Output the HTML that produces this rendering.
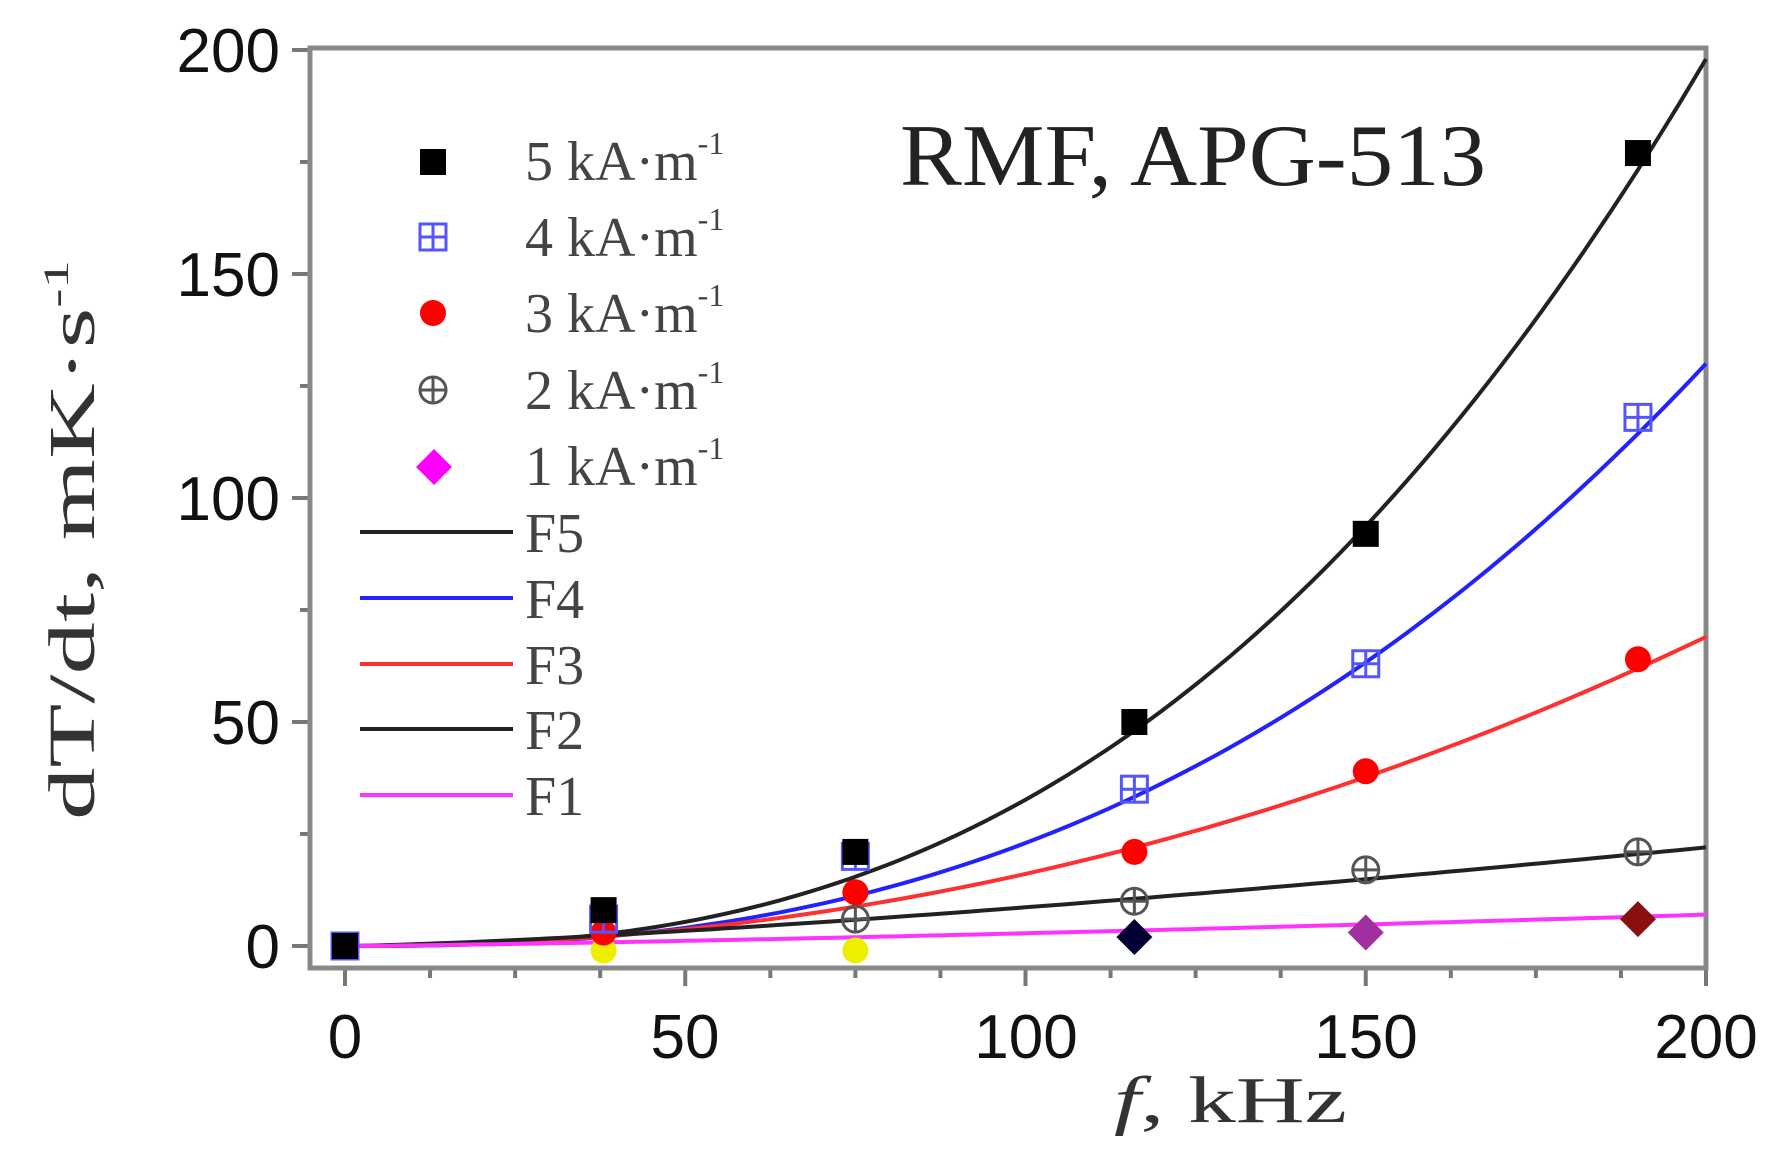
<!DOCTYPE html>
<html><head><meta charset="utf-8"><style>
html,body{margin:0;padding:0;background:#fff;}
svg{display:block;}
</style></head><body>
<svg id="s" width="1786" height="1161" viewBox="0 0 1786 1161" xmlns="http://www.w3.org/2000/svg">
<rect width="1786" height="1161" fill="#fff"/>
<g id="ticks" stroke="#777" stroke-width="4"></g>
<rect x="310" y="48" width="1396" height="920" fill="none" stroke="#888" stroke-width="5"/>
<g id="curves" fill="none" stroke-width="4"></g>
<g id="pts"></g>
<g font-family="Liberation Sans, sans-serif" font-size="62" fill="#111" text-anchor="end">
<text x="280" y="968">0</text>
<text x="280" y="744">50</text>
<text x="280" y="520">100</text>
<text x="280" y="296">150</text>
<text x="280" y="72">200</text>
</g>
<g font-family="Liberation Sans, sans-serif" font-size="62" fill="#111" text-anchor="middle">
<text x="345" y="1058">0</text>
<text x="685" y="1058">50</text>
<text x="1026" y="1058">100</text>
<text x="1366" y="1058">150</text>
<text x="1706" y="1058">200</text>
</g>
<text x="1114" y="1122" font-family="Liberation Serif, serif" font-size="66" fill="#333" textLength="233" lengthAdjust="spacingAndGlyphs"><tspan font-style="italic">f</tspan>,  kHz</text>
<text transform="translate(94,820) rotate(-90)" font-family="Liberation Serif, serif" font-size="66" fill="#333" textLength="560" lengthAdjust="spacingAndGlyphs">dT/dt,  mK·s<tspan dy="-26" font-size="36">-1</tspan></text>
<text x="900" y="185" font-family="Liberation Serif, serif" font-size="88" fill="#222" textLength="586" lengthAdjust="spacingAndGlyphs">RMF, APG-513</text>
<g font-family="Liberation Serif, serif" font-size="56" fill="#444">
<text x="525" y="180">5 kA·m<tspan dy="-26" font-size="32">-1</tspan></text>
<text x="525" y="256">4 kA·m<tspan dy="-26" font-size="32">-1</tspan></text>
<text x="525" y="332">3 kA·m<tspan dy="-26" font-size="32">-1</tspan></text>
<text x="525" y="409">2 kA·m<tspan dy="-26" font-size="32">-1</tspan></text>
<text x="525" y="485">1 kA·m<tspan dy="-26" font-size="32">-1</tspan></text>
<text x="525" y="552">F5</text>
<text x="525" y="618">F4</text>
<text x="525" y="684">F3</text>
<text x="525" y="749">F2</text>
<text x="525" y="815">F1</text>
</g>
<g stroke-width="4">
<line x1="360" y1="532" x2="513" y2="532" stroke="#222"/>
<line x1="360" y1="598" x2="513" y2="598" stroke="#2222ff"/>
<line x1="360" y1="664" x2="513" y2="664" stroke="#ff3030"/>
<line x1="360" y1="729" x2="513" y2="729" stroke="#222"/>
<line x1="360" y1="795" x2="513" y2="795" stroke="#ff33ff"/>
</g>
</svg>
<script>
var NS="http://www.w3.org/2000/svg";
function X(f){return 345+f*6.805;} function Y(v){return 946-v*4.48;}
function el(p,t,a){var e=document.createElementNS(NS,t);for(var k in a)e.setAttribute(k,a[k]);document.getElementById(p).appendChild(e);return e;}
for(var f=0;f<=200;f+=12.5){var maj=(f%50==0);el('ticks','line',{x1:X(f),y1:968,x2:X(f),y2:968+(maj?18:10)});}
for(var v=0;v<=200;v+=25){var maj=(v%50==0);el('ticks','line',{x1:310,y1:Y(v),x2:310-(maj?18:10),y2:Y(v)});}
var fits=[[198,2.6,'#222'],[130,2.5,'#2222ff'],[69,2.1,'#ff3030'],[22,1.35,'#222'],[7,1.3,'#ff33ff']];
fits.forEach(function(c){var d='';for(var f=0;f<=200;f+=2){d+=(f?'L':'M')+X(f).toFixed(1)+','+Y(c[0]*Math.pow(f/200,c[1])).toFixed(1);}el('curves','path',{d:d,stroke:c[2]});});
function sq(x,y,fill,stroke){el('pts','rect',{x:x-13,y:y-13,width:26,height:26,fill:fill,stroke:stroke||'none','stroke-width':3});}
function cross(x,y,col){el('pts','line',{x1:x-13,y1:y,x2:x+13,y2:y,stroke:col,'stroke-width':3});el('pts','line',{x1:x,y1:y-13,x2:x,y2:y+13,stroke:col,'stroke-width':3});}
function circ(x,y,fill,stroke){el('pts','circle',{cx:x,cy:y,r:13,fill:fill,stroke:stroke||'none','stroke-width':3});}
function dia(x,y,fill){el('pts','path',{d:'M'+x+','+(y-18)+'L'+(x+18)+','+y+'L'+x+','+(y+18)+'L'+(x-18)+','+y+'Z',fill:fill});}
[[38,-1],[75,-1]].forEach(function(p){circ(X(p[0]),Y(p[1]),'#ee0');});
[[116,2,'#003'],[150,3,'#a030a0'],[190,6,'#8a1010']].forEach(function(p){dia(X(p[0]),Y(p[1]),p[2]);});
[[75,6],[116,10],[150,17],[190,21]].forEach(function(p){circ(X(p[0]),Y(p[1]),'none','#555');cross(X(p[0]),Y(p[1]),'#555');});
[[38,3],[75,12],[116,21],[150,39],[190,64]].forEach(function(p){circ(X(p[0]),Y(p[1]),'#f00');});
[[0,0],[38,6],[75,20],[116,35],[150,63],[190,118]].forEach(function(p){sq(X(p[0]),Y(p[1]),'none','#5555ff');cross(X(p[0]),Y(p[1]),'#5555ff');});
[[0,0],[38,8],[75,21],[116,50],[150,92],[190,177]].forEach(function(p){sq(X(p[0]),Y(p[1]),'#000');});
sq(433,162,'#000');
sq(433,237,'none','#5555ff');cross(433,237,'#5555ff');
circ(433,313,'#f00');
circ(433,390,'none','#555');cross(433,390,'#555');
dia(434,467,'#f0f');
</script>
</body></html>
